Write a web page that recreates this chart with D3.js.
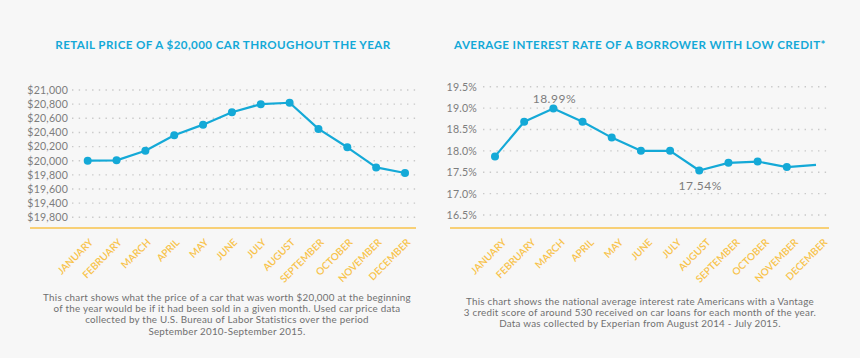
<!DOCTYPE html>
<html><head><meta charset="utf-8">
<script src="https://cdn.jsdelivr.net/npm/d3@7"></script>
<style>
html,body{margin:0;padding:0;background:#f7f7f7;}
svg{display:block;font-family:Lato,"Open Sans",sans-serif;}
</style></head><body>
<svg id="c" width="860" height="358"></svg>
<script>
const months = ["JANUARY","FEBRUARY","MARCH","APRIL","MAY","JUNE","JULY","AUGUST","SEPTEMBER","OCTOBER","NOVEMBER","DECEMBER"];
const priceValues = [20000,20005,20140,20360,20510,20685,20800,20820,20450,20190,19905,19827];
const priceTickValues = [21000,20800,20600,20400,20200,20000,19800,19600,19400,19200];
const priceTickLabels = ["$21,000","$20,800","$20,600","$20,400","$20,200","$20,000","$19,800","$19,600","$19,400","$19,800"];
const rateValues = [17.87,18.68,18.99,18.68,18.31,18.0,18.0,17.54,17.72,17.75,17.62,17.67];
const rateTickValues = [19.5,19.0,18.5,18.0,17.5,17.0,16.5];
const rateTickLabels = ["19.5%","19.0%","18.5%","18.0%","17.5%","17.0%","16.5%"];
const rateAnnotations = [{i:2,text:"18.99%",pos:"above"},{i:7,text:"17.54%",pos:"below"}];
const titles = ["RETAIL PRICE OF A $20,000 CAR THROUGHOUT THE YEAR","AVERAGE INTEREST RATE OF A BORROWER WITH LOW CREDIT*"];
const notes = [
 ["This chart shows what the price of a car that was worth $20,000 at the beginning","of the year would be if it had been sold in a given month. Used car price data","collected by the U.S. Bureau of Labor Statistics over the period","September 2010-September 2015."],
 ["This chart shows the national average interest rate Americans with a Vantage","3 credit score of around 530 received on car loans for each month of the year.","Data was collected by Experian from August 2014 - July 2015."]
];

const svg = d3.select("#c");
const BLUE="#14a9d7", ORANGE="#f8c34b", GRAY="#7d7d7d";

function panel(cfg){
  const g = svg.append("g");
  const x = d3.scalePoint().domain(months).range(cfg.xr);
  const y = d3.scaleLinear().domain(cfg.yd).range(cfg.yr);
  // title
  g.append("text").attr("x",cfg.tx).attr("y",49).attr("text-anchor","middle")
    .attr("fill",BLUE).attr("font-weight","bold").attr("font-size",11.6)
    .attr("letter-spacing",0.4).text(cfg.title);
  // grid
  g.selectAll(".grid").data(cfg.ticks).join("line")
    .attr("x1",cfg.gx[0]).attr("x2",cfg.gx[1])
    .attr("y1",d=>y(d)).attr("y2",d=>y(d))
    .attr("stroke","#c9c9c9").attr("stroke-width",1.4)
    .attr("stroke-dasharray","1.4,5.3");
  // y axis labels
  const ax = d3.axisLeft(y).tickValues(cfg.ticks).tickSize(0).tickPadding(0)
    .tickFormat((d,i)=>cfg.labels[i]);
  const ag = g.append("g").attr("transform",`translate(${cfg.lx},0)`).call(ax);
  ag.select(".domain").remove();
  ag.selectAll("text").attr("fill",GRAY).attr("font-size",10.6).attr("font-family","Lato,sans-serif").attr("letter-spacing",0.2);
  // baseline
  g.append("line").attr("x1",cfg.bx[0]).attr("x2",cfg.bx[1]).attr("y1",228).attr("y2",228)
    .attr("stroke",ORANGE).attr("stroke-width",1.6);
  // x labels
  g.selectAll(".xl").data(months).join("text")
    .attr("transform",d=>`translate(${x(d)+cfg.xoff},243) rotate(-45)`)
    .attr("text-anchor","end").attr("fill",ORANGE).attr("font-size",10)
    .attr("font-weight","600").text(d=>d);
  // line
  const line = d3.line().x((d,i)=>x(months[i])).y(d=>y(d));
  g.append("path").datum(cfg.values).attr("d",line).attr("fill","none")
    .attr("stroke",BLUE).attr("stroke-width",2.2).attr("stroke-linejoin","round");
  g.selectAll(".pt").data(cfg.values.slice(0,cfg.nDots)).join("circle")
    .attr("cx",(d,i)=>x(months[i])).attr("cy",d=>y(d)).attr("r",4).attr("fill",BLUE);
  // annotations
  (cfg.ann||[]).forEach(a=>{
    g.append("text").attr("x",x(months[a.i])+1).attr("y",y(cfg.values[a.i])+(a.pos==="above"?-6:19))
      .attr("text-anchor","middle").attr("fill",GRAY).attr("font-size",12).attr("letter-spacing",0.5).text(a.text);
  });
  // notes
  g.append("text").attr("text-anchor","middle").attr("fill","#707070").attr("font-size",9.8)
    .attr("letter-spacing",0.25)
    .selectAll("tspan").data(cfg.note).join("tspan")
    .attr("x",cfg.nx).attr("y",(d,i)=>cfg.ny+i*11.2).text(d=>d);
}

panel({xr:[87.7,405],yd:[19200,21000],yr:[217.3,90],ticks:priceTickValues,labels:priceTickLabels,
  values:priceValues,nDots:12,title:titles[0],tx:223,gx:[72,416],lx:68,bx:[30,416],xoff:6,
  note:notes[0],nx:227,ny:301});
panel({xr:[495,816],yd:[16.5,19.5],yr:[215,86.7],ticks:rateTickValues,labels:rateTickLabels,
  values:rateValues,nDots:11,title:titles[1],tx:640,gx:[483,829],lx:477,bx:[450,829],xoff:12,
  ann:rateAnnotations,note:notes[1],nx:640,ny:305});
</script>
</body></html>
